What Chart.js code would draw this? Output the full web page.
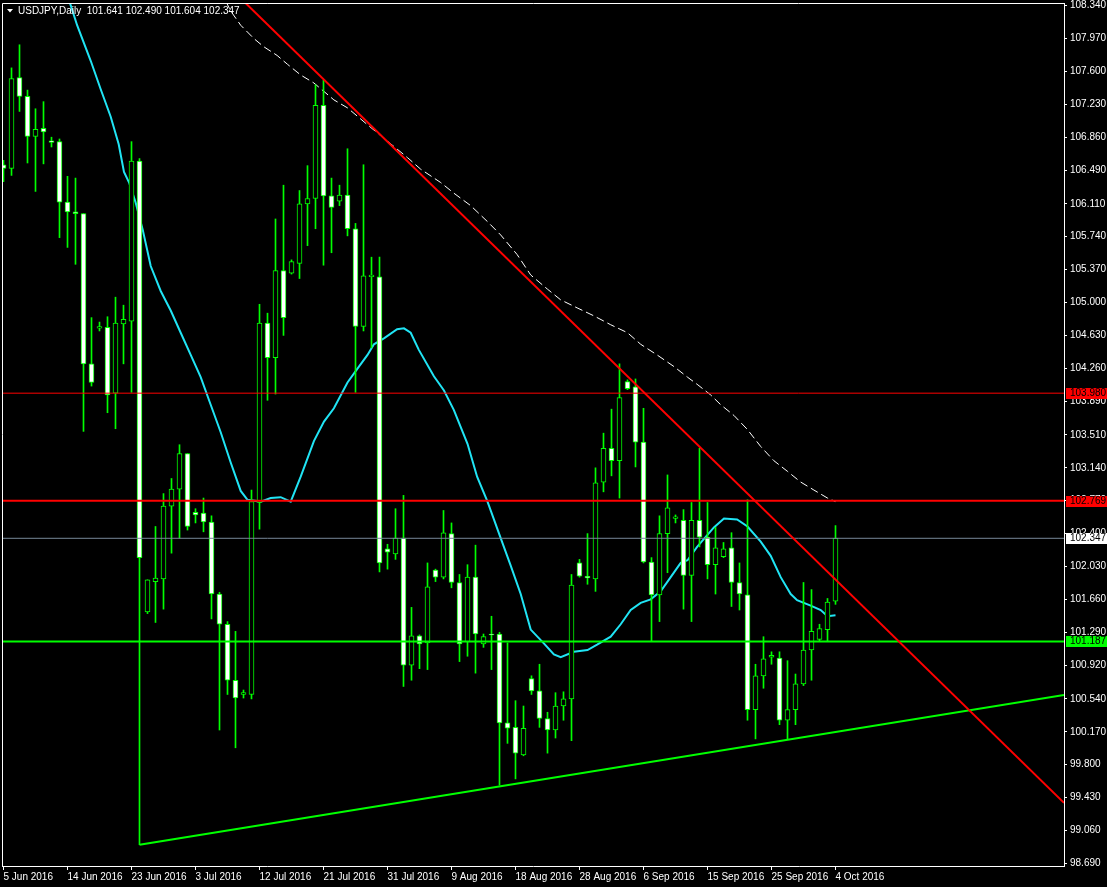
<!DOCTYPE html>
<html>
<head>
<meta charset="utf-8">
<title>USDJPY Daily</title>
<script src="https://cdn.jsdelivr.net/npm/chart.js@4.4.1/dist/chart.umd.min.js"></script>
<style>
  html, body { margin: 0; padding: 0; background: #000; }
  #wrap { width: 1107px; height: 887px; }
</style>
</head>
<body>
<div id="wrap"><canvas id="chart" width="1107" height="887"></canvas></div>
<script>
// daily bars, one per index (label every 8th bar)
const opens  = [106.55,106.51,107.53,107.32,106.87,106.96,106.82,106.81,106.13,106.02,106.00,104.31,104.71,104.72,103.98,104.76,104.79,106.59,101.52,101.86,
  101.89,102.71,102.90,103.30,102.64,102.63,102.53,101.72,101.38,100.75,100.59,100.59,102.75,104.77,104.38,105.36,105.33,105.44,106.11,106.17,
  107.22,106.20,106.14,106.21,105.83,104.73,105.29,105.29,102.23,102.17,102.35,100.92,101.25,101.17,101.99,101.91,102.40,101.85,101.18,101.91,
  101.16,101.27,101.27,100.27,100.22,99.91,100.77,100.63,100.32,100.19,100.46,100.54,102.07,101.92,101.89,102.98,103.36,103.22,104.11,104.05,
  103.43,102.08,101.71,102.40,102.57,102.55,101.93,102.55,102.36,102.05,102.14,102.24,101.85,101.71,100.42,100.80,101.01,101.00,100.30,100.42,
  100.71,101.09,101.21,101.32,101.641];
const highs  = [106.60,107.64,107.90,107.39,107.18,107.26,106.86,106.84,106.42,106.40,106.00,104.83,104.78,104.84,105.06,104.97,106.81,106.62,101.88,102.48,
  102.85,103.02,103.40,103.30,102.68,102.80,102.60,101.74,101.41,101.30,100.64,102.89,104.98,104.88,105.94,106.32,105.48,106.26,106.54,107.45,
  107.50,106.40,106.32,106.73,105.89,106.55,105.51,105.51,102.28,102.68,102.83,101.57,101.26,102.07,102.00,102.66,102.52,101.94,102.05,102.27,
  101.27,101.47,101.29,101.17,100.52,100.46,100.80,100.93,100.39,100.61,100.62,101.94,102.11,102.40,103.14,103.53,103.80,104.31,104.13,104.14,
  103.81,102.13,102.60,103.06,102.61,102.67,102.75,103.36,102.75,102.47,102.30,102.41,102.07,102.78,100.93,101.24,101.07,101.07,100.97,100.82,
  101.85,101.77,101.38,101.67,102.490];
const lows   = [106.36,106.43,107.15,106.57,106.25,106.56,106.75,105.73,105.62,105.43,103.55,104.06,104.68,103.76,103.58,104.31,103.99,98.90,101.50,101.40,
  101.55,102.18,102.35,102.44,102.52,102.42,101.44,100.19,100.59,99.99,100.55,100.54,102.45,103.90,103.97,104.63,105.32,105.27,105.64,105.83,
  105.42,105.56,106.09,105.75,103.99,104.68,104.49,101.97,102.00,102.11,100.68,100.75,100.88,100.87,101.86,101.89,101.79,100.96,101.02,100.83,
  101.12,100.87,99.57,100.04,99.64,99.90,100.59,100.22,99.93,100.10,100.30,100.07,101.91,101.83,101.75,102.87,103.05,102.80,104.02,103.15,
  102.07,101.19,101.41,101.96,102.52,101.55,101.41,102.25,101.89,101.72,102.13,101.58,101.54,100.30,100.09,100.66,100.93,100.25,100.09,100.25,
  100.69,100.75,101.19,101.19,101.604];
const closes = [106.51,107.52,107.32,106.87,106.95,106.92,106.80,106.13,106.02,106.00,104.31,104.10,104.73,103.96,104.77,104.81,106.59,102.13,101.88,101.90,
  102.71,102.90,103.30,102.48,102.61,102.53,101.72,101.38,100.75,100.55,100.61,102.76,104.77,104.38,105.36,104.83,105.46,106.11,106.17,107.22,
  106.20,106.07,106.21,105.83,104.73,105.30,105.31,102.07,102.19,102.35,100.92,101.25,101.16,101.80,101.91,102.41,101.85,101.16,101.91,101.27,
  101.24,101.26,100.27,100.21,99.93,100.21,100.63,100.32,100.19,100.46,100.54,101.82,101.92,101.90,102.97,103.36,103.22,103.93,104.03,103.43,
  102.08,101.71,102.40,102.69,102.59,101.93,102.55,102.36,102.05,102.24,102.23,101.85,101.72,100.42,100.80,100.99,101.03,100.30,100.42,100.71,
  101.09,101.30,101.33,101.63,102.347];

const dateLabels = ['5 Jun 2016','14 Jun 2016','23 Jun 2016','3 Jul 2016','12 Jul 2016','21 Jul 2016','31 Jul 2016',
  '9 Aug 2016','18 Aug 2016','28 Aug 2016','6 Sep 2016','15 Sep 2016','25 Sep 2016','4 Oct 2016'];
const dateStep = 8;

const priceLabels = ['108.340','107.970','107.600','107.230','106.860','106.490','106.110','105.740','105.370','105.000',
  '104.630','104.260','103.890','103.510','103.140','102.770','102.400','102.030','101.660','101.290','100.920',
  '100.540','100.170','99.800','99.430','99.060','98.690'];

// moving averages: [bar index, price]
const maFastX = [7,8.2,9.2,10.9,12.15,13.4,14.4,15.06,15.7,16.5,17.4,18.4,19.65,20.9,22.15,23.4,24.65,25.9,27.15,28.4,29.65,30.5,32.15,33.4,
  34.65,35.9,37.15,38.8,40.06,41.3,43,44.2,45.5,46.3,47.6,49.2,50.06,50.9,51.9,53.8,55.06,56.3,58,59.2,60.5,62.15,63.4,64.65,65.9,67.6,
  68.8,69.65,71.3,73,74.2,75.9,77.15,78.4,79.65,80.9,82.15,83.4,84.65,85.5,86.7,88.8,90.06,91.7,93,94.65,95.9,97.15,98.4,99.2,100.9,102.15,103,104];
const maFastY = [108.74,108.40,108.12,107.72,107.40,107.09,106.78,106.47,106.35,106.13,105.82,105.41,105.13,104.91,104.66,104.41,104.16,103.85,
  103.54,103.20,102.88,102.78,102.76,102.80,102.81,102.76,103.04,103.44,103.66,103.81,104.10,104.25,104.41,104.53,104.60,104.70,104.71,104.66,
  104.47,104.17,104.01,103.79,103.41,103.04,102.76,102.35,102.04,101.72,101.32,101.16,101.04,101.01,101.07,101.09,101.15,101.24,101.38,101.54,
  101.62,101.66,101.75,101.91,102.07,102.10,102.25,102.47,102.57,102.56,102.48,102.31,102.15,101.91,101.72,101.65,101.59,101.54,101.47,101.48];
const maSlowX = [27,27.9,28.4,29.65,31.3,32.5,34.2,35.5,37.15,38.8,41.3,43,45.5,50.5,52.15,54.65,56.3,58.4,60.5,62.15,64.2,65.9,68,69.65,
  71.7,73.8,75.9,78,79.65,81.7,83.8,85.5,86.7,88.4,89.65,91.3,93,94.65,96.3,98,99.65,101.3,103,104];
const maSlowY = [108.50,108.37,108.28,108.12,107.97,107.88,107.78,107.68,107.56,107.47,107.28,107.19,107.00,106.63,106.50,106.35,106.23,
  106.09,105.91,105.76,105.54,105.31,105.15,105.03,104.94,104.85,104.75,104.66,104.53,104.41,104.28,104.16,104.08,103.96,103.85,103.73,
  103.57,103.38,103.22,103.10,102.98,102.89,102.80,102.76];

// drawn objects
const redTrendX = [29, 132.56];
const redTrendY = [108.48, 99.37];
const greenTrendX = [17, 132.56];
const greenTrendY = [98.90, 100.585];
const redLevels = [103.980, 102.769];
const greenLevels = [101.187];

const X_MIN = -0.1875, X_MAX = 132.5625;
const Y_MIN = 98.66, Y_MAX = 108.37;
const FONT = '"Liberation Sans", Arial, sans-serif';
const FONT_SIZE = 10;
const LIME = '#00ff00';

const idx = opens.map((_, i) => i);
const lastClose = closes[closes.length - 1];
const pts = (xs, ys) => xs.map((x, i) => ({x: x, y: ys[i]}));
const hline = v => [{x: X_MIN, y: v}, {x: X_MAX, y: v}];

const mt4Extras = {
  id: 'mt4Extras',
  afterDraw(chart) {
    const {ctx, chartArea: a, scales: {y}} = chart;
    ctx.save();
    ctx.strokeStyle = '#fff';
    ctx.lineWidth = 1;
    ctx.beginPath();
    ctx.moveTo(a.left + 0.5, a.bottom);
    ctx.lineTo(a.left + 0.5, a.top + 0.5);
    ctx.lineTo(a.right, a.top + 0.5);
    ctx.stroke();

    // symbol line
    ctx.fillStyle = '#fff';
    ctx.beginPath();
    ctx.moveTo(7, 9); ctx.lineTo(13, 9); ctx.lineTo(10, 12.5); ctx.closePath();
    ctx.fill();
    ctx.font = FONT_SIZE + 'px ' + FONT;
    ctx.textBaseline = 'middle';
    ctx.textAlign = 'left';
    ctx.fillText('USDJPY,Daily  ' + [opens, highs, lows, closes].map(s => s[s.length - 1].toFixed(3)).join(' '), 18, 11);

    // price tags on the axis
    const tags = redLevels.map(v => [v, '#ff0000'])
      .concat([[lastClose, '#ffffff']])
      .concat(greenLevels.map(v => [v, LIME]));
    tags.forEach(([v, bg]) => {
      const py = Math.round(y.getPixelForValue(v));
      ctx.fillStyle = bg;
      ctx.fillRect(a.right + 2, py - 5, 41, 11);
      ctx.fillStyle = '#000';
      ctx.fillText(v.toFixed(3), a.right + 6, py + 0.5);
    });
    ctx.restore();
  }
};

new Chart(document.getElementById('chart'), {
  type: 'bar',
  data: {
    datasets: [
      {type: 'line', data: pts(redTrendX, redTrendY), borderColor: '#ff0000', borderWidth: 2, pointRadius: 0, order: 0},
      {type: 'line', data: pts(greenTrendX, greenTrendY), borderColor: LIME, borderWidth: 2, pointRadius: 0, order: 0},
      {type: 'line', data: hline(redLevels[0]), borderColor: '#ff0000', borderWidth: 1, pointRadius: 0, order: 1},
      {type: 'line', data: hline(redLevels[1]), borderColor: '#ff0000', borderWidth: 2, pointRadius: 0, order: 1},
      {type: 'line', data: hline(greenLevels[0]), borderColor: LIME, borderWidth: 2, pointRadius: 0, order: 1},
      {type: 'line', data: hline(lastClose), borderColor: '#778899', borderWidth: 1, pointRadius: 0, order: 2},
      {
        data: idx.map(i => ({x: i, y: [opens[i], closes[i]]})),
        backgroundColor: idx.map(i => closes[i] >= opens[i] ? '#000000' : '#ffffff'),
        borderColor: LIME, borderWidth: 1, borderSkipped: false,
        barThickness: 5, grouped: false, order: 5
      },
      {
        data: idx.map(i => ({x: i, y: [lows[i], highs[i]]})),
        backgroundColor: LIME, borderWidth: 0,
        barThickness: 1, grouped: false, order: 6
      },
      {type: 'line', data: pts(maFastX, maFastY), borderColor: '#20e4f4', borderWidth: 2, pointRadius: 0, order: 7},
      {type: 'line', data: pts(maSlowX, maSlowY), borderColor: '#ffffff', borderWidth: 1, borderDash: [8, 4], pointRadius: 0, order: 8}
    ]
  },
  options: {
    responsive: false,
    animation: false,
    events: [],
    layout: {padding: {left: 2, top: 3, right: 0, bottom: 0}},
    plugins: {legend: {display: false}, tooltip: {enabled: false}},
    scales: {
      x: {
        type: 'linear', min: X_MIN, max: X_MAX, offset: false,
        grid: {drawOnChartArea: false, color: '#fff', tickLength: 4, offset: false},
        border: {color: '#fff'},
        ticks: {
          color: '#fff', font: {family: FONT, size: FONT_SIZE}, padding: 1,
          align: 'start', maxRotation: 0, minRotation: 0, autoSkip: false,
          callback: (v, i) => dateLabels[i]
        },
        afterBuildTicks: s => { s.ticks = dateLabels.map((_, i) => ({value: i * dateStep})); },
        afterFit: s => { s.height = 21; s.paddingLeft = 0; s.paddingRight = 0; }
      },
      y: {
        type: 'linear', position: 'right', min: Y_MIN, max: Y_MAX,
        grid: {drawOnChartArea: false, color: '#fff', tickLength: 3},
        border: {color: '#fff'},
        ticks: {
          color: '#fff', font: {family: FONT, size: FONT_SIZE}, padding: 3, autoSkip: false,
          callback: (v, i) => priceLabels[i]
        },
        afterBuildTicks: s => { s.ticks = priceLabels.map(t => ({value: Number(t)})); },
        afterFit: s => { s.width = 43; s.paddingTop = 0; s.paddingBottom = 0; }
      }
    }
  },
  plugins: [mt4Extras]
});
</script>
</body>
</html>
